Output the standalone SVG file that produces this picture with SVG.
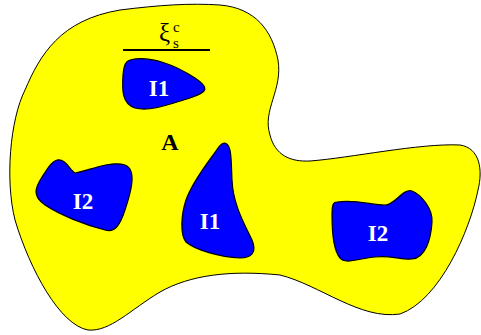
<svg xmlns="http://www.w3.org/2000/svg" width="481" height="335" viewBox="0 0 481 335">
<style>
.region{fill:#ffff00;stroke:#000;stroke-width:1}
.incl{fill:#0000ff;stroke:#000;stroke-width:1.2}
.lbl{font-family:"Liberation Serif",serif;font-weight:bold;font-size:23px;fill:#fff;text-anchor:middle}
.blk{font-family:"Liberation Serif",serif;fill:#000}
</style>
<g id="regionA">
<path class="region" d="M 220,5 C 255,8 272,30 278,60 C 283,90 262,110 270,135 C 275,155 290,162 310,161 C 350,158 420,143 460,145 C 480,148 483,170 478,190 C 470,230 440,300 400,314 C 360,320 320,285 280,275 C 230,270 190,275 160,292 C 130,310 110,332 88,330 C 60,325 30,270 15,220 C 5,180 10,120 25,90 C 40,55 60,20 120,10 C 160,5 190,3 220,5 Z"/>
<text class="blk" x="170" y="150" font-size="24" font-weight="bold" text-anchor="middle">A</text>
</g>
<g id="xi">
<text class="blk" x="159" y="41" font-size="25">ξ</text>
<text class="blk" x="173" y="32" font-size="15">c</text>
<text class="blk" x="173" y="48" font-size="15">s</text>
<line x1="123" y1="50" x2="210" y2="50" stroke="#000" stroke-width="2"/>
</g>
<g id="I1top">
<path class="incl" d="M 130,60 C 150,55 175,65 195,78 C 210,88 208,92 190,98 C 170,104 150,112 135,108 C 122,104 122,90 123,75 C 124,64 126,61 130,60 Z"/>
<text class="lbl" x="159" y="96">I1</text>
</g>
<g id="I2left">
<path class="incl" d="M 57,160 C 65,158 70,170 75,173 C 85,172 110,160 125,165 C 138,170 130,195 125,210 C 120,225 115,233 105,230 C 85,225 60,215 45,205 C 32,196 35,188 42,177 C 48,168 52,161 57,160 Z"/>
<text class="lbl" x="83" y="209">I2</text>
</g>
<g id="I1mid">
<path class="incl" d="M 225,143 C 232,145 231,160 232,180 C 233,205 245,225 252,240 C 257,252 252,258 240,258 C 220,257 195,250 186,242 C 180,235 181,215 186,200 C 193,180 210,160 218,148 C 220,145 222,143 225,143 Z"/>
<text class="lbl" x="210" y="229">I1</text>
</g>
<g id="I2right">
<path class="incl" d="M 337,202 C 355,199 372,205 385,205 C 395,205 403,188 412,191 C 420,194 433,208 432,222 C 431,240 425,258 412,259 C 400,260 390,255 375,257 C 360,258 345,265 340,258 C 333,250 332,232 332,215 C 332,205 333,202 337,202 Z"/>
<text class="lbl" x="378" y="241">I2</text>
</g>
<g id="connectors"/>
</svg>
